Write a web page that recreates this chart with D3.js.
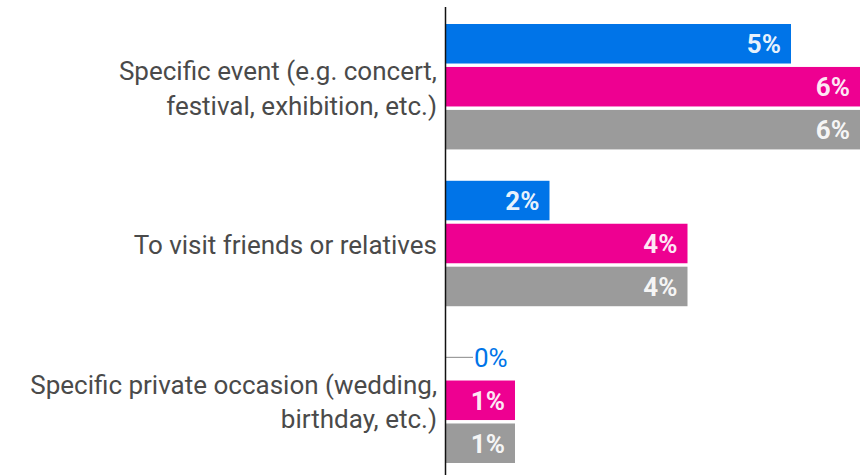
<!DOCTYPE html>
<html>
<head>
<meta charset="utf-8">
<script src="https://cdn.jsdelivr.net/npm/d3@7"></script>
<style>
  html, body { margin: 0; padding: 0; background: #fff; }
  svg { display: block; }
</style>
</head>
<body>
<svg id="chart" width="864" height="475"></svg>
<script>
const categories = [
  "Specific event (e.g. concert,\nfestival, exhibition, etc.)",
  "To visit friends or relatives",
  "Specific private occasion (wedding,\nbirthday, etc.)"
];
const seriesNames = ["Series A", "Series B", "Series C"];
const seriesColors = ["#0074E8", "#EE0091", "#9B9B9B"];
// values in percent, one array per series (by category)
const seriesA = [5.0, 1.5, 0.0];
const seriesB = [6.0, 3.5, 1.0];
const seriesC = [6.0, 3.5, 1.0];
const xDomain = [0, 6];

const series = [seriesA, seriesB, seriesC];
const data = categories.map((c, i) => ({
  cat: c,
  vals: series.map((s, j) => ({ key: seriesNames[j], value: s[i], color: seriesColors[j] }))
}));

const svg = d3.select("#chart");
const x = d3.scaleLinear().domain(xDomain).range([446, 860]);
const y0 = d3.scaleBand().domain(categories).range([24, 463]).paddingInner(0.2).paddingOuter(0);
const y1 = d3.scaleBand().domain(seriesNames).range([0, y0.bandwidth()]).paddingInner(0.08).paddingOuter(0);

const font = "Roboto, 'Noto Sans', sans-serif";
const fs = 26;

const groups = svg.selectAll("g.grp").data(data).join("g")
  .attr("class", "grp")
  .attr("transform", d => `translate(0,${y0(d.cat)})`);

groups.selectAll("rect").data(d => d.vals).join("rect")
  .attr("x", x(0))
  .attr("y", d => y1(d.key))
  .attr("width", d => Math.max(0, x(d.value) - x(0)))
  .attr("height", y1.bandwidth())
  .attr("fill", d => d.color);

const fmt = v => Math.round(v) + "%";

groups.each(function(d) {
  const g = d3.select(this);
  d.vals.forEach(v => {
    const w = x(v.value) - x(0);
    const cy = y1(v.key) + y1.bandwidth() / 2;
    if (w > 45) {
      g.append("text")
        .attr("x", x(v.value) - 10)
        .attr("y", cy)
        .attr("dy", "0.36em")
        .attr("text-anchor", "end")
        .attr("font-family", font)
        .attr("font-weight", "bold")
        .attr("font-size", fs)
        .attr("fill", "#fff")
        .attr("fill-opacity", 0.92)
        .text(fmt(v.value));
    } else {
      g.append("line")
        .attr("x1", x(v.value))
        .attr("x2", x(v.value) + 27)
        .attr("y1", cy)
        .attr("y2", cy)
        .attr("stroke", "#888")
        .attr("stroke-width", 1);
      g.append("text")
        .attr("x", x(v.value) + 28)
        .attr("y", cy)
        .attr("dy", "0.36em")
        .attr("text-anchor", "start")
        .attr("font-family", font)
        .attr("font-size", fs)
        .attr("fill", v.color)
        .text(fmt(v.value));
    }
  });

  const lines = d.cat.split("\n");
  const lh = 34.5;
  const cy = y0.bandwidth() / 2 + 1.5;
  const t = g.append("text")
    .attr("text-anchor", "end")
    .attr("font-family", font)
    .attr("font-size", fs)
    .attr("fill", "#4a4a4a");
  lines.forEach((ln, i) => {
    t.append("tspan")
      .attr("x", x(0) - 9)
      .attr("y", cy + (i - (lines.length - 1) / 2) * lh)
      .attr("dy", "0.36em")
      .text(ln);
  });
});

// category axis line
svg.append("line")
  .attr("x1", x(0) - 0.5).attr("x2", x(0) - 0.5)
  .attr("y1", 7).attr("y2", 475)
  .attr("stroke", "#111")
  .attr("stroke-width", 1.5);
</script>
</body>
</html>
